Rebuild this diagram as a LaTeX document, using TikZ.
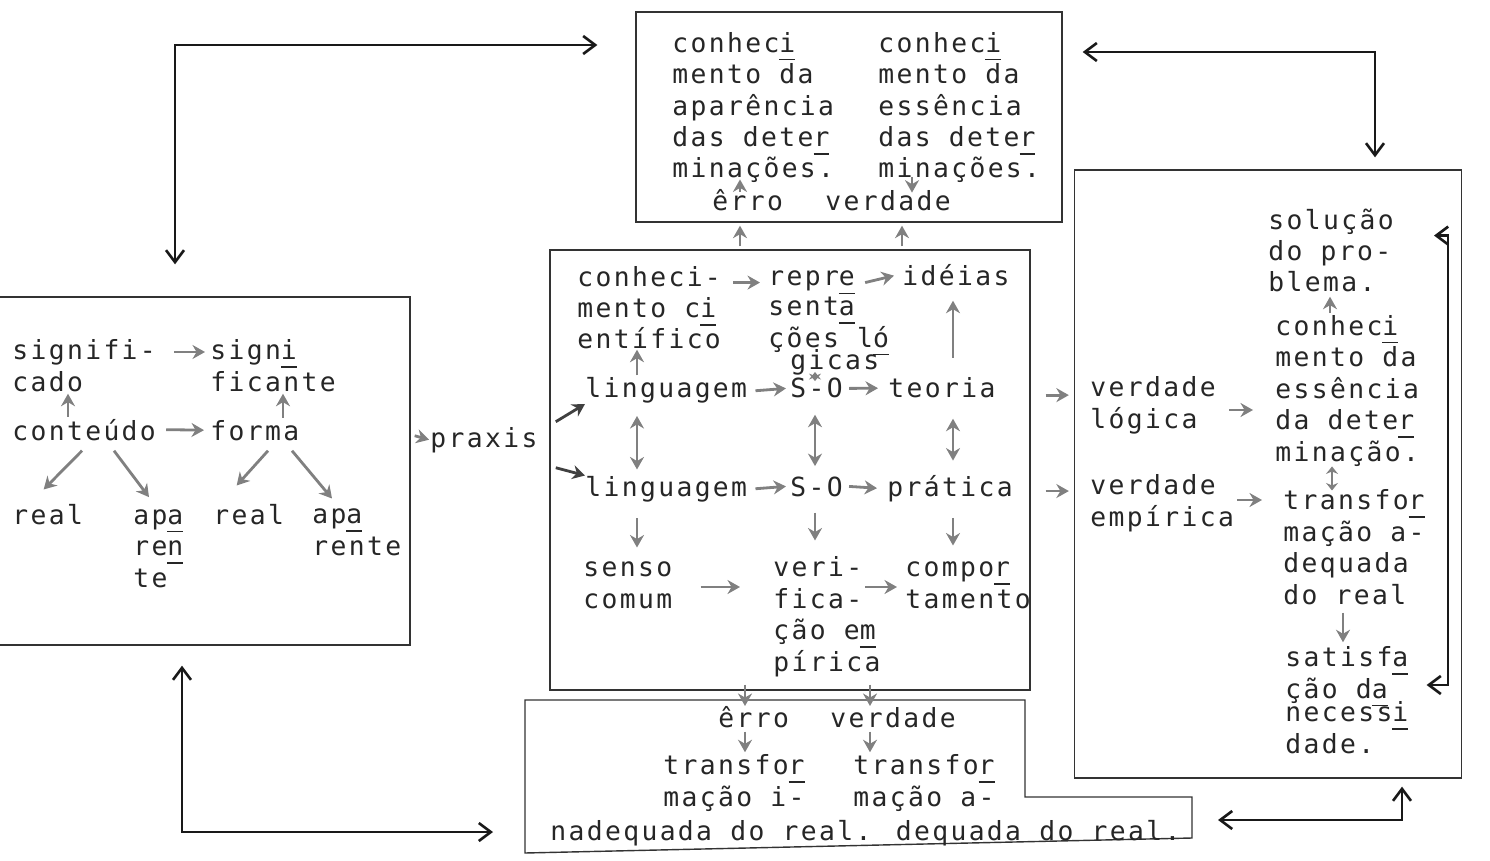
\documentclass[tikz,border=0pt]{standalone}
\usepackage{fontspec}
\newfontfamily\typer{DejaVu Sans Mono}[LetterSpace=9]
\usetikzlibrary{arrows.meta,calc}
\newcommand{\us}[1]{\sbox0{#1}\rlap{\rule[-4.5pt]{\wd0}{0.8pt}}#1}
\tikzset{
  panel/.style={draw=black!80, line width=0.8pt, inner sep=0pt},
  boxline/.style={draw=black!80, line width=0.8pt},
  tw/.style={font=\typer\fontsize{15pt}{17.86pt}\selectfont, align=left, inner sep=0pt, anchor=base west, text=black!85},
  flow/.style={-{Stealth[length=2.5mm,width=2.8mm]}, line width=1.6pt, draw=black!50},
  dflow/.style={{Stealth[length=2.5mm,width=2.8mm]}-{Stealth[length=2.5mm,width=2.8mm]}, line width=1.6pt, draw=black!50},
  sflow/.style={{Stealth[length=1.5mm,width=2.4mm]}-{Stealth[length=1.5mm,width=2.4mm]}, line width=1.4pt, draw=black!50},
  bigarr/.style={{Straight Barb[length=2.4mm,width=3.6mm]}-{Straight Barb[length=2.4mm,width=3.6mm]}, line width=1.5pt, draw=black!90},
}
\begin{document}
\begin{tikzpicture}[x=0.02cm, y=-0.02cm]
  \useasboundingbox (0,0) rectangle (1490,861);

  % top box (multi-line texts are placed by their last baseline)
  \node[panel, minimum width=8.52cm, minimum height=4.2cm] (tbox) at (849,117) {};
  \node[tw] (ea) at (672,178) {conhec\us{i}\\mento da\\aparência\\das dete\us{r}\\minações.};
  \node[tw] (ee) at (878,178) {conhec\us{i}\\mento da\\essência\\das dete\us{r}\\minações.};
  \node[tw] (er1) at (712,211) {êrro};
  \node[tw] (vd1) at (825,211) {verdade};

  % centre box
  \node[panel, minimum width=9.6cm, minimum height=8.8cm] (cbox) at (790,470) {};
  \node[tw] (cc) at (577,349) {conheci-\\mento c\us{i}\\entífico};
  \node[tw] (rl) at (768,286) {repr\us{e}};
  \node[tw] (rlb) at (768,347) {sent\us{a}\\ções l\us{ó}};
  \node[tw] (rlc) at (790,369) {gicas};
  \node[tw] (id) at (902,286) {idéias};
  \node[tw] (lg1) at (585,398) {linguagem};
  \node[tw] (so1) at (790,398) {S-O};
  \node[tw] (te) at (888,398) {teoria};
  \node[tw] (lg2) at (585,496) {linguagem};
  \node[tw] (so2) at (790,496) {S-O};
  \node[tw] (pr) at (887,496) {prática};
  \node[tw] (sc) at (583,608) {senso\\comum};
  \node[tw] (ve) at (773,671) {veri-\\fica-\\ção e\us{m}\\pírica};
  \node[tw] (co) at (905,608) {compo\us{r}\\tamento};

  \coordinate (c1) at (637,0);
  \coordinate (c2) at (815,0);
  \coordinate (c3) at (953,0);
  \coordinate (r6) at (0,587);
  \draw[flow] ($(cc.east |- rl)+(12,0)$) -- ($(rl.west)+(-8,0)$);
  \draw[flow] ($(rl.east)+(10,0)$) -- ($(id.west)+(-8,0)$);
  \draw[flow] ($(lg1.east)+(8,0)$) -- ($(so1.west)+(-4,0)$);
  \draw[flow] ($(so1.east)+(6,0)$) -- ($(te.west)+(-10,0)$);
  \draw[flow] ($(lg2.east)+(8,0)$) -- ($(so2.west)+(-4,0)$);
  \draw[flow] ($(so2.east)+(6,0)$) -- ($(pr.west)+(-10,0)$);
  \draw[flow] ($(lg1.north -| c1)+(0,-2)$) -- (cc.south -| c1);
  \draw[flow] ($(te.north -| c3)+(0,-20)$) -- ($(id.south -| c3)+(0,14)$);
  \draw[sflow] ($(so1.north -| c2)+(0,3)$) -- ($(rlc.south -| c2)+(0,-3)$);
  \draw[dflow] ($(lg1.south -| c1)+(0,12)$) -- ($(lg2.north -| c1)+(0,-6)$);
  \draw[dflow] ($(so1.south -| c2)+(0,16)$) -- ($(so2.north -| c2)+(0,-10)$);
  \draw[dflow] ($(te.south -| c3)+(0,20)$) -- ($(pr.north -| c3)+(0,-14)$);
  \draw[flow] ($(lg2.south -| c1)+(0,16)$) -- ($(sc.north -| c1)+(0,-14)$);
  \draw[flow] ($(so2.south -| c2)+(0,16)$) -- ($(ve.north -| c2)+(0,-16)$);
  \draw[flow] ($(pr.south -| c3)+(0,16)$) -- ($(co.north -| c3)+(0,-16)$);
  \draw[flow] ($(sc.east |- r6)+(28,0)$) -- ($(ve.west |- r6)+(-33,0)$);
  \draw[flow] ($(ve.west |- r6)+(92,0)$) -- ($(co.west |- r6)+(-8,0)$);

  % centre to top box
  \coordinate (t1) at (740,0);
  \coordinate (t2) at (902,0);
  \draw[flow] ($(cbox.north -| t1)+(0,-3)$) -- ($(tbox.south -| t1)+(0,3)$);
  \draw[flow] ($(cbox.north -| t2)+(0,-3)$) -- ($(tbox.south -| t2)+(0,3)$);
  \draw[flow] ($(er1.north -| t1)+(0,2)$) -- ($(ea.south -| t1)+(0,-4)$);
  \draw[flow] ($(ee.south -| 912,0)+(0,-6)$) -- ($(vd1.north -| 912,0)+(0,2)$);

  % left box
  \node[panel, minimum width=8.4cm, minimum height=6.96cm] (lbox) at (200,471) {};
  \node[tw] (sg) at (12,391) {signifi-\\cado};
  \node[tw] (sgt) at (210,391) {sign\us{i}\\ficante};
  \node[tw] (ct) at (12,440) {conteúdo};
  \node[tw] (fm) at (210,440) {forma};
  \node[tw] (re1) at (12,524) {real};
  \node[tw] (ap1) at (133,587) {ap\us{a}\\re\us{n}\\te};
  \node[tw] (re2) at (213,524) {real};
  \node[tw] (ap2) at (312,555) {ap\us{a}\\rente};
  \coordinate (lr1) at (0,352);
  \begin{scope}[every path/.append style={draw=black!68}]
  \draw[flow] ($(sg.east |- lr1)+(18,0)$) -- ($(sgt.west |- lr1)+(-5,0)$);
  \draw[flow] ($(ct.east)+(10,0)$) -- ($(fm.west)+(-6,0)$);
  \draw[flow] ($(ct.north -| 68,0)+(0,-2)$) -- ($(sg.south -| 68,0)+(0,2)$);
  \draw[flow] ($(fm.north -| 283,0)+(0,-2)$) -- ($(sgt.south -| 283,0)+(0,2)$);
  \draw[flow] ($(ct.south west)+(70,10)$) -- ($(re1.north)+(-4,-14)$);
  \draw[flow] ($(ct.south west)+(102,10)$) -- ($(ap1.north west)+(16,-12)$);
  \draw[flow] ($(fm.south west)+(58,10)$) -- ($(re2.north)+(-12,-18)$);
  \draw[flow] ($(fm.south west)+(82,10)$) -- ($(ap2.north west)+(20,-10)$);
  \end{scope}

  % praxis
  \node[tw] (pxs) at (430,447) {praxis};
  \draw[flow] ($(lbox.east |- pxs)+(4,-4)$) -- ($(pxs.west)+(-1,0)$);
  \draw[flow, draw=black!75] ($(pxs.east)+(18,-18)$) -- (lg1.south west);
  \draw[flow, draw=black!75] ($(pxs.east)+(18,28)$) -- (lg2.north west);

  % right box
  \node[panel, minimum width=7.74cm, minimum height=12.16cm] (rbox) at (1268,474) {};
  \node[tw] (vl) at (1090,428) {verdade\\lógica};
  \node[tw] (vem) at (1090,526) {verdade\\empírica};
  \node[tw] (sol) at (1268,292) {solução\\do pro-\\blema.};
  \node[tw] (cess) at (1275,461) {conhec\us{i}\\mento da\\essência\\da dete\us{r}\\minação.};
  \node[tw] (tad) at (1283,604) {transfo\us{r}\\mação a-\\dequada\\do real};
  \node[tw] (sat) at (1285,698) {satisf\us{a}\\ção d\us{a}};
  \node[tw] (sat2) at (1285,753) {necess\us{i}\\dade.};
  \begin{scope}[every path/.append style={draw=black!70}]
  \draw[flow] ($(cbox.east |- vl)+(15,-10)$) -- ($(rbox.west |- vl)+(-5,-10)$);
  \draw[flow] ($(cbox.east |- vem)+(15,-12)$) -- ($(rbox.west |- vem)+(-5,-12)$);
  \draw[flow] ($(vl.east |- 0,410)+(13,0)$) -- ($(cess.west |- 0,410)+(-22,0)$);
  \draw[flow] ($(vem.east |- 0,500)+(3,0)$) -- ($(tad.west |- 0,500)+(-21,0)$);
  \draw[flow] ($(cess.north -| 1330,0)+(0,-2)$) -- ($(sol.south -| 1330,0)+(0,4)$);
  \draw[sflow] ($(cess.south -| 1332,0)+(0,0)$) -- ($(tad.north -| 1332,0)+(0,1)$);
  \draw[flow] ($(tad.south -| 1343,0)+(0,8)$) -- ($(sat.north -| 1343,0)+(0,-4)$);
  \end{scope}
  \coordinate (br) at (1448,685);
  \draw[bigarr] ($(sol.east)+(40,-15)$) -| (br) -- ($(sat.east |- br)+(18,0)$);

  % bottom box
  \coordinate (bb1) at (525,700);
  \coordinate (bb2) at (1025,700);
  \coordinate (bb3) at (1025,797);
  \coordinate (bbe) at (1192,797);
  \coordinate (bb5) at (1192,838);
  \coordinate (bb6) at (525,853);
  \draw[boxline] (bb1) -- (bb2) -- (bb3) -- (bbe) -- (bb5) -- (bb6) -- cycle;
  \node[tw] (er2) at (718,727) {êrro};
  \node[tw] (vd2) at (830,727) {verdade};
  \node[tw] (ti) at (663,806) {transfo\us{r}\\mação i-};
  \node[tw] (ta) at (853,806) {transfo\us{r}\\mação a-};
  \node[tw] (nd) at (550,840) {nadequada do real. dequada do real.};
  \coordinate (b1) at (745,0);
  \coordinate (b2) at (870,0);
  \draw[flow] ($(cbox.south -| b1)+(0,-6)$) -- ($(bb1 -| b1)+(0,6)$);
  \draw[flow] ($(cbox.south -| b2)+(0,-6)$) -- ($(bb1 -| b2)+(0,6)$);
  \draw[flow] ($(er2.south -| b1)+(0,4)$) -- ($(ti.north -| b1)+(0,-2)$);
  \draw[flow] ($(vd2.south -| b2)+(0,4)$) -- ($(ta.north -| b2)+(0,-2)$);

  % connectors between boxes
  \coordinate (k1) at (175,45);
  \coordinate (k2) at (1375,52);
  \coordinate (k3) at (182,832);
  \coordinate (k4) at (1402,820);
  \draw[bigarr] ($(lbox.north -| k1)+(0,-32)$) -- (k1) -- ($(tbox.west |- k1)+(-38,0)$);
  \draw[bigarr] ($(tbox.east |- k2)+(20,0)$) -- (k2) -- ($(rbox.north -| k2)+(0,-12)$);
  \draw[bigarr] ($(lbox.south -| k3)+(0,20)$) -- (k3) -- ($(bb1 |- k3)+(-32,0)$);
  \draw[bigarr] ($(bbe |- k4)+(26,0)$) -- (k4) -- ($(rbox.south -| k4)+(0,8)$);
\end{tikzpicture}
\end{document}
